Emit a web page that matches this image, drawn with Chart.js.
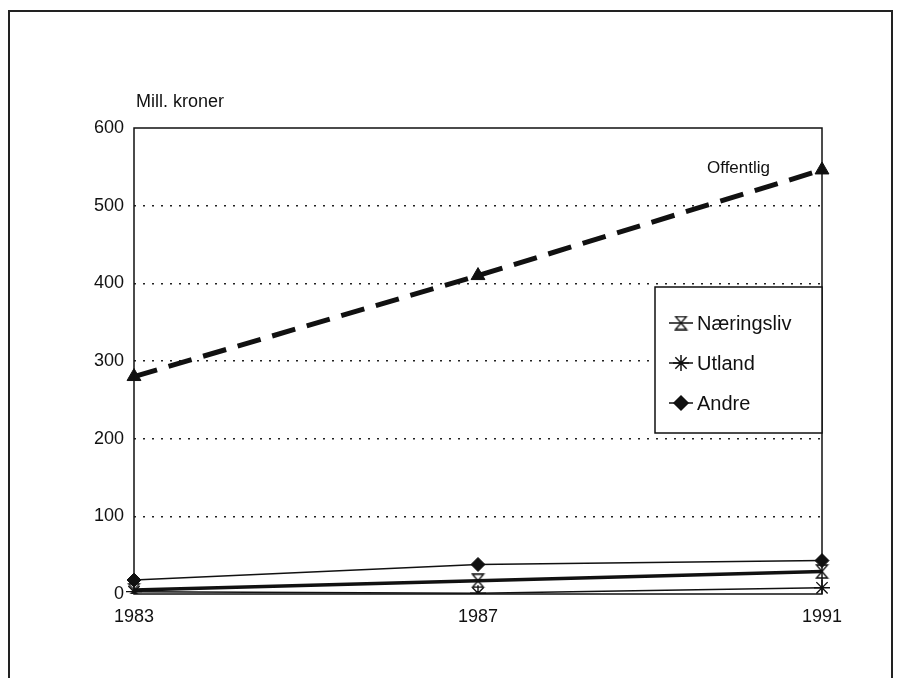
<!DOCTYPE html>
<html>
<head>
<meta charset="utf-8">
<script src="https://cdn.jsdelivr.net/npm/chart.js@4"></script>
<style>
  body { margin: 0; background: #fff; }
  canvas { display: block; }
</style>
</head>
<body>
<canvas id="chart" width="900" height="678"></canvas>
<script>
// data
var years = ['1983', '1987', '1991'];
var offentlig = [280, 410, 546];
var naeringsliv = [5, 17, 29];
var utland = [3, 1, 8];
var andre = [18, 38, 43];
var yTicks = [0, 100, 200, 300, 400, 500, 600];

var FONT = '"Liberation Sans", Arial, sans-serif';

// hourglass marker (two open triangles)
function hourglass(size) {
    var c = document.createElement('canvas');
    c.width = size; c.height = size;
    var g = c.getContext('2d');
    var m = size / 2;
    g.strokeStyle = '#111';
    g.lineWidth = 1.4;
    g.beginPath();
    g.moveTo(2, 1); g.lineTo(size - 2, 1); g.lineTo(m, m); g.closePath();
    g.moveTo(m, m); g.lineTo(size - 2, size - 1); g.lineTo(2, size - 1); g.closePath();
    g.stroke();
    return c;
}
var hgMarker = hourglass(15);

var frame = {
    id: 'frame',
    beforeDraw: function(chart) {
        var ctx = chart.ctx;
        ctx.save();
        ctx.strokeStyle = '#222';
        ctx.lineWidth = 2;
        ctx.beginPath();
        ctx.moveTo(9, 700); ctx.lineTo(9, 11); ctx.lineTo(892, 11); ctx.lineTo(892, 700);
        ctx.stroke();
        ctx.restore();
    },
    afterDraw: function(chart) {
        var ctx = chart.ctx, a = chart.chartArea;
        ctx.save();
        // plot box
        ctx.strokeStyle = '#111';
        ctx.lineWidth = 1.5;
        ctx.strokeRect(a.left, a.top, a.right - a.left, a.bottom - a.top);
        // unit label
        ctx.fillStyle = '#111';
        ctx.font = '18px ' + FONT;
        ctx.textAlign = 'left';
        ctx.textBaseline = 'alphabetic';
        ctx.fillText('Mill. kroner', a.left + 2, a.top - 21);
        // Offentlig label next to last point
        var pt = chart.getDatasetMeta(0).data[2];
        ctx.font = '17px ' + FONT;
        ctx.textAlign = 'right';
        ctx.fillText('Offentlig', pt.x - 52, pt.y + 3);
        // legend box
        var lx = 655, ly = 287, lw = a.right - lx, lh = 146;
        ctx.fillStyle = '#fff';
        ctx.fillRect(lx, ly, lw, lh);
        ctx.lineWidth = 1.5;
        ctx.strokeRect(lx, ly, lw, lh);
        var items = [1, 2, 3];
        items.forEach(function(i, k) {
            var ds = chart.data.datasets[i];
            var y = ly + 36 + k * 40;
            ctx.strokeStyle = '#111';
            ctx.lineWidth = 1.5;
            ctx.beginPath();
            ctx.moveTo(lx + 14, y); ctx.lineTo(lx + 38, y);
            ctx.stroke();
            Chart.helpers.drawPoint(ctx, {
                pointStyle: ds.pointStyle, radius: ds.pointRadius,
                borderWidth: 1.3, rotation: 0
            }, lx + 26, y);
            ctx.fillStyle = '#111';
            ctx.font = '20px ' + FONT;
            ctx.textAlign = 'left';
            ctx.textBaseline = 'middle';
            ctx.fillText(ds.label, lx + 42, y + 1);
        });
        ctx.restore();
    }
};

new Chart(document.getElementById('chart'), {
    type: 'line',
    data: {
        labels: years,
        datasets: [{
            label: 'Offentlig',
            data: offentlig,
            borderColor: '#111',
            backgroundColor: '#111',
            borderWidth: 5,
            borderDash: [24, 12],
            pointStyle: 'triangle',
            pointRadius: 8,
            pointBorderWidth: 1
        }, {
            label: 'Næringsliv',
            data: naeringsliv,
            borderColor: '#111',
            backgroundColor: '#111',
            borderWidth: 3.5,
            pointStyle: hgMarker,
            pointRadius: 7
        }, {
            label: 'Utland',
            data: utland,
            borderColor: '#111',
            backgroundColor: '#111',
            borderWidth: 1.5,
            pointStyle: 'star',
            pointRadius: 8,
            pointBorderWidth: 1.4
        }, {
            label: 'Andre',
            data: andre,
            borderColor: '#111',
            backgroundColor: '#111',
            borderWidth: 1.5,
            pointStyle: 'rectRot',
            pointRadius: 7,
            pointBorderWidth: 1
        }]
    },
    options: {
        responsive: false,
        animation: false,
        layout: { padding: { left: 0, right: 78, top: 128, bottom: 44 } },
        plugins: {
            legend: { display: false },
            tooltip: { enabled: false }
        },
        scales: {
            x: {
                offset: false,
                grid: { display: false, drawTicks: false },
                border: { display: false },
                ticks: { color: '#111', font: { family: FONT, size: 18 }, padding: 12, maxRotation: 0 },
                afterFit: function(s) { s.height = 40; }
            },
            y: {
                min: 0,
                max: 600,
                afterBuildTicks: function(s) { s.ticks = yTicks.map(function(v) { return { value: v }; }); },
                grid: {
                    color: function(c) { return (c.tick.value === 0 || c.tick.value === 600) ? 'rgba(0,0,0,0)' : '#222'; },
                    lineWidth: 1.5,
                    drawTicks: false
                },
                border: { display: false, dash: [2, 7] },
                ticks: { color: '#111', font: { family: FONT, size: 18 }, padding: 10 },
                afterFit: function(s) { s.width = 134; }
            }
        }
    },
    plugins: [frame]
});
</script>
</body>
</html>
